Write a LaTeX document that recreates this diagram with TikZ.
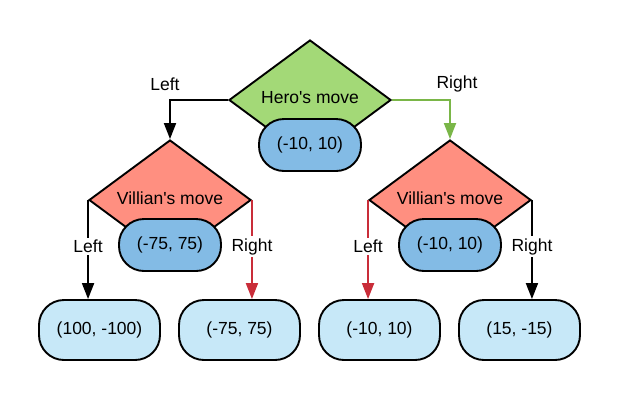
\documentclass[tikz,border=0pt]{standalone}
\usepackage{fontspec}
\setmainfont{Liberation Sans}
\usetikzlibrary{shapes.geometric,arrows.meta}
\definecolor{dgreen}{HTML}{A3D977}
\definecolor{dred}{HTML}{FF8F80}
\definecolor{pillblue}{HTML}{83BBE5}
\definecolor{leafblue}{HTML}{C7E8F8}
\definecolor{lgreen}{HTML}{7AB648}
\definecolor{lred}{HTML}{C92D39}
\begin{document}
\begin{tikzpicture}[x=1pt,y=-1pt,
  font=\fontsize{17.5}{20}\selectfont,
  line width=1.9pt,
  dia/.style={diamond,draw=black,minimum width=162pt,minimum height=120pt,inner sep=0pt},
  pill/.style={draw=black,fill=pillblue,rounded corners=25pt,minimum width=102pt,minimum height=52pt,inner sep=0pt},
  leaf/.style={draw=black,fill=leafblue,rounded corners=25pt,minimum width=121pt,minimum height=60pt,inner sep=0pt},
  conn/.style={-{Triangle[length=16pt,width=12pt]}},
  lbl/.style={fill=white,inner sep=2pt,text=black}]
\useasboundingbox (0,0) rectangle (620,400);
% diamonds
\node[dia,fill=dgreen] (d1) at (310,100) {};
\node (t1) at (310,98) {Hero\textquotesingle s move};
\node[pill] (p1) at (310,145) {(-10, 10)};
\node[dia,fill=dred] (d2) at (170,200) {};
\node (t2) at (170,198) {Villian\textquotesingle s move};
\node[pill] (p2) at (170,245) {(-75, 75)};
\node[dia,fill=dred] (d3) at (450,200) {};
\node (t3) at (450,198) {Villian\textquotesingle s move};
\node[pill] (p3) at (450,245) {(-10, 10)};
% leaves
\node[leaf] (l1) at (99.5,330) {(100, -100)};
\node[leaf] (l2) at (239.5,330) {(-75, 75)};
\node[leaf] (l3) at (379.5,330) {(-10, 10)};
\node[leaf] (l4) at (519.5,330) {(15, -15)};
% connectors
\draw[conn] (d1.west) -| (d2.north);
\draw[conn,draw=lgreen] (d1.east) -| (d3.north);
\node (ltop) at (165,84) {Left};
\node (rtop) at (457,84) {Right};
\draw[conn] (d2.west) -- node[lbl,pos=0.47] (la) {Left} (d2.west |- l1.north);
\draw[conn,draw=lred] (d2.east) -- node[lbl,pos=0.47] (lb) {Right} (d2.east |- l2.north);
\draw[conn,draw=lred] (d3.west) -- node[lbl,pos=0.47] (lc) {Left} (d3.west |- l3.north);
\draw[conn] (d3.east) -- node[lbl,pos=0.47] (ld) {Right} (d3.east |- l4.north);
\end{tikzpicture}
\end{document}
